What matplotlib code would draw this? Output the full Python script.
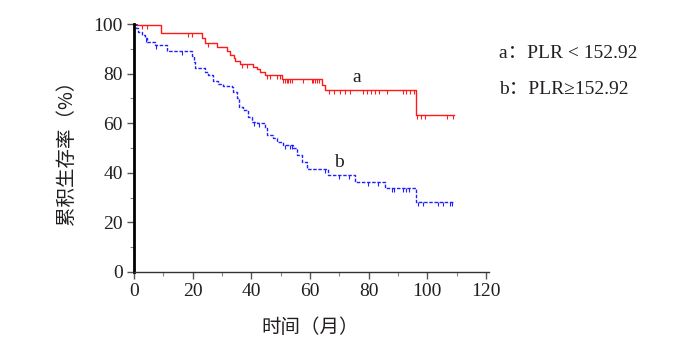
import numpy as np
import matplotlib
matplotlib.use("Agg")
import matplotlib.pyplot as plt

# ---------------- Data ----------------
# group a: PLR < 152.92  (Kaplan-Meier steps, time in months, survival in %)
a_time = [0, 1.0, 9.0, 23.2, 24.2, 28.3, 31.7, 32.7, 33.9, 34.4, 36.1, 40.7,
          41.8, 43.0, 44.7, 50.4, 64.0, 65.1, 96.1, 109.0]
a_surv = [100, 99.5, 96.2, 94.4, 92.5, 90.8, 89.3, 87.5, 86.2, 85.2, 83.9, 82.8,
          81.7, 80.5, 79.4, 77.8, 75.4, 73.4, 63.3, 63.3]
a_cens = [2.7, 4.4, 18.4, 19.7, 25.2, 36.7, 38.5, 45.2, 46.4, 48.7, 49.8,
          50.9, 51.5, 52.1, 52.6, 53.2, 53.8, 57.7, 60.6, 61.1, 61.7, 62.3, 63.2,
          66.5, 68.2, 70.2, 71.9, 73.6, 78.2, 79.4, 80.8, 82.2, 83.6, 86.4,
          91.6, 92.8, 94.1, 95.3, 96.6, 97.7, 99.2, 106.6, 108.7]

# group b: PLR >= 152.92
b_time = [0, 0.5, 1.4, 2.6, 3.8, 4.5, 7.2, 11.1, 19.8, 20.3, 20.9, 24.2, 25.2,
          26.9, 28.6, 30.3, 33.4, 33.8, 35.0, 35.6, 37.2, 38.9, 40.1, 41.8, 44.7,
          45.2, 47.4, 48.7, 50.8, 54.2, 55.5, 57.2, 58.9, 66.1, 75.3, 85.6, 96.1,
          109.0]
b_surv = [100, 98.5, 96.9, 95.6, 94.2, 92.6, 91.5, 89.2, 87.0, 84.8, 82.3, 80.8,
          79.4, 77.0, 75.8, 75.2, 74.6, 72.7, 70.0, 66.7, 65.3, 62.6, 60.6, 60.0,
          57.9, 55.2, 53.9, 52.5, 51.2, 49.9, 47.2, 44.5, 41.7, 39.1, 36.4, 33.8,
          28.3, 28.3]
b_cens = [4.1, 7.5, 16.3, 41.0, 42.5, 51.5, 53.0, 54.0, 65.1, 70.0, 73.4, 79.9,
          83.2, 87.9, 88.6, 91.8, 92.7, 93.9, 96.9, 98.6, 103.7, 105.5, 107.7, 108.5]

x_ticks = [0, 20, 40, 60, 80, 100, 120]
y_ticks = [0, 20, 40, 60, 80, 100]
legend_lines = ["a\uff1aPLR < 152.92", "b\uff1aPLR\u2265152.92"]

SERIF = ["Liberation Serif", "Noto Sans CJK SC", "DejaVu Serif"]
CJK = ["Noto Sans CJK SC", "DejaVu Sans"]
TXT = "#231f20"


def surv_at(times, surv, t):
    idx = np.searchsorted(times, t, side="right") - 1
    return np.array(surv)[idx]


fig = plt.figure(figsize=(6.74, 3.43), dpi=100)
ax = fig.add_axes([0.199, 0.207, 0.522, 0.723])

ax.step(a_time, a_surv, where="post", color="#ff1a1a", lw=1.0)
ax.step(b_time, b_surv, where="post", color="#2020ff", lw=1.0, linestyle=(0, (2.5, 1.2)))

# censoring marks
ca = surv_at(a_time, a_surv, a_cens)
ax.vlines(a_cens, ca - 1.6, ca, color="#ff1a1a", lw=0.8)
cb = surv_at(b_time, b_surv, b_cens)
ax.vlines(b_cens, cb - 1.6, cb, color="#2020ff", lw=0.8)

ax.text(76, 76.6, "a", fontsize=14, family=SERIF, color=TXT, ha="center", va="baseline")
ax.text(70, 42.3, "b", fontsize=14, family=SERIF, color=TXT, ha="center", va="baseline")

ax.set_xlim(0, 120)
ax.set_ylim(0, 100)
ax.set_xticks(x_ticks)
ax.set_yticks(y_ticks)
ax.set_xticks(np.arange(10, 120, 20), minor=True)
ax.set_yticks(np.arange(10, 100, 20), minor=True)
ax.set_xticklabels([str(v) for v in x_ticks], family=SERIF, fontsize=14, color=TXT)
ax.set_yticklabels([str(v) for v in y_ticks], family=SERIF, fontsize=14, color=TXT)
ax.tick_params(which="major", direction="out", length=5, width=1, color="#555555", pad=3)
ax.tick_params(which="minor", direction="out", length=3, width=0.8, color="#888888")

for s in ["top", "right"]:
    ax.spines[s].set_visible(False)
ax.spines["left"].set_linewidth(2.0)
ax.spines["left"].set_color("black")
ax.spines["bottom"].set_linewidth(1.0)
ax.spines["bottom"].set_color("#333333")
ax.spines["bottom"].set_bounds(0, 121)

ax.set_xlabel("时间（月）", family=CJK, fontsize=14, color=TXT, labelpad=12)
ax.set_ylabel("累积生存率（%）", family=CJK, fontsize=14, color=TXT, labelpad=12)

fig.text(0.741, 0.845, legend_lines[0], family=SERIF, fontsize=14, color=TXT, va="center")
fig.text(0.741, 0.738, legend_lines[1], family=SERIF, fontsize=14, color=TXT, va="center")

fig.savefig("out.png", dpi=100)
